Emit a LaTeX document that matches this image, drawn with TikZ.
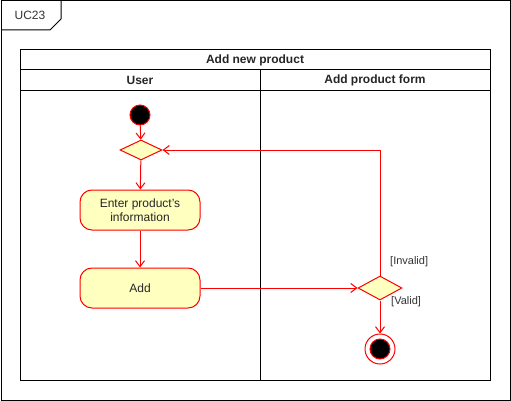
\documentclass[tikz,border=0pt]{standalone}
\usepackage{fontspec}
\setmainfont{Liberation Sans}
\usetikzlibrary{arrows.meta,shapes.geometric}
\definecolor{umlred}{HTML}{FF0000}
\definecolor{umlfill}{HTML}{FFFFC0}
\begin{document}
\begin{tikzpicture}[x=1pt,y=-1pt,
  frameline/.style={draw=black,line width=1pt},
  lbl/.style={font=\fontsize{12}{14}\selectfont,text=black!80},
  hdr/.style={font=\fontsize{12}{14}\selectfont\bfseries,text=black!85},
  startnode/.style={circle,draw=umlred,fill=black,line width=1pt,minimum size=20pt,inner sep=0pt},
  decision/.style={diamond,draw=umlred,fill=umlfill,line width=1pt,minimum width=42pt,minimum height=20pt,inner sep=0pt},
  action/.style={rectangle,rounded corners=12pt,draw=umlred,fill=umlfill,line width=1pt,minimum width=120pt,minimum height=40pt,align=center,font=\fontsize{12}{14}\selectfont,text=black!85},
  endouter/.style={circle,draw=umlred,line width=1pt,minimum size=30pt,inner sep=0pt},
  endinner/.style={circle,draw=umlred,fill=black,line width=1pt,minimum size=20pt,inner sep=0pt},
  guard/.style={font=\fontsize{11}{13}\selectfont,text=black!80,anchor=west,inner sep=0pt},
  flow/.style={draw=umlred,line width=1pt,-{Straight Barb[length=6pt,width=9pt]}}
]
\useasboundingbox (0,0) rectangle (511,401);
% outer frame
\draw[frameline] (1,1) rectangle (510,400);
\draw[frameline] (1,30) -- (50,30) -- (61,19) -- (61,1);
\node[lbl] (uc) at (30,15) {UC23};
% swimlane pool
\draw[frameline] (20,50) rectangle (490,380);
\draw[frameline] (20,70) -- (490,70);
\draw[frameline] (20,91) -- (490,91);
\draw[frameline] (260,70) -- (260,380);
\node[hdr] (pool) at (255,60) {Add new product};
\node[hdr] (lane1) at (140,80.5) {User};
\node[hdr] (lane2) at (375,80.5) {Add product form};
% nodes
\node[startnode] (start) at (140,115) {};
\node[decision] (d1) at (141,150) {};
\node[action] (act1) at (140,210) {Enter product's\\information};
\node[action] (act2) at (140,288) {Add};
\node[decision,minimum width=44pt,minimum height=24pt] (d2) at (380,288) {};
\node[endouter] (end) at (380,349) {};
\node[endinner] (endin) at (end.center) {};
% connectors
\draw[flow] (start) -- (d1);
\draw[flow] (d1) -- (act1);
\draw[flow] (act1) -- (act2);
\draw[flow] (act2) -- (d2);
\draw[flow] (d2) -- (end);
\draw[flow] (d2.north) |- (d1.east);
\node[guard] (ginv) at (390,262) {[Invalid]};
\node[guard] (gval) at (391,302) {[Valid]};
\end{tikzpicture}
\end{document}
